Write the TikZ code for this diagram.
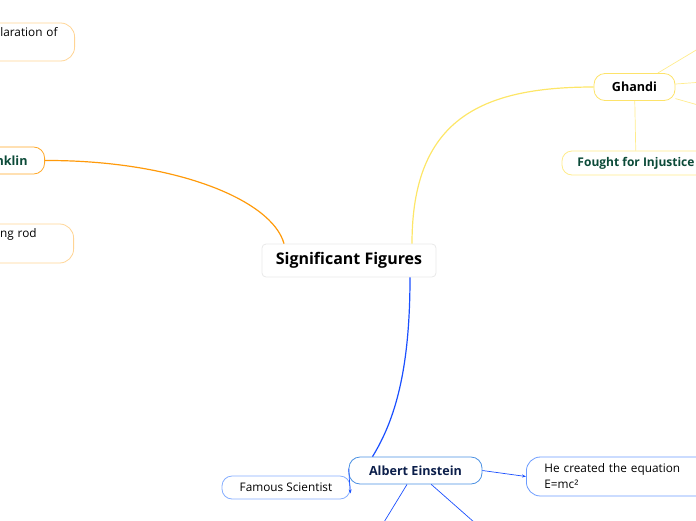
\documentclass[tikz,border=0pt]{standalone}
\usepackage{fontspec}
\setmainfont{Open Sans}
\usetikzlibrary{arrows.meta}
\definecolor{orangeline}{HTML}{FF9A0A}
\definecolor{orangebox}{HTML}{FFA726}
\definecolor{orangelight}{HTML}{FFD494}
\definecolor{darkgreen}{HTML}{0B4A38}
\definecolor{yellowline}{HTML}{FDE668}
\definecolor{yellowbox}{HTML}{FDE36A}
\definecolor{yellowlight}{HTML}{FFEC8C}
\definecolor{blueline}{HTML}{1A4FFF}
\definecolor{bluebox}{HTML}{4A90E2}
\definecolor{bluelight}{HTML}{86AEFF}
\definecolor{bluemid}{HTML}{6B9BFF}
\definecolor{navy}{HTML}{0B1E4A}
\definecolor{centerbox}{HTML}{E8E8E8}
\tikzset{
  pill/.style={draw, rounded corners=11pt, line width=0.8pt, inner ysep=0pt},
  lbl/.style={font=\fontsize{11.8}{16}\selectfont},
  blbl/.style={font=\bfseries\fontsize{12.6}{16}\selectfont},
  sblbl/.style={font=\bfseries\fontsize{12}{16}\selectfont},
  conn/.style={line width=1.2pt},
  thin/.style={line width=0.7pt},
  tip/.style={-{Stealth[length=4pt,width=3pt]}},
}
\begin{document}
\begin{tikzpicture}[x=1pt,y=-1pt]
\useasboundingbox (0,0) rectangle (696,520);
\clip (0,0) rectangle (696,520);

% central
\node[draw=centerbox, rounded corners=4pt, line width=0.8pt, minimum width=174pt, minimum height=33pt,
      font=\bfseries\fontsize{16}{19}\selectfont] (center) at (349,260.5) {Significant Figures};

% Franklin branch
\node[pill, draw=orangebox, blbl, text=darkgreen, anchor=east, minimum height=27pt,
      text width=80pt, align=right, inner xsep=17pt] (franklin) at (45,160.5) {nklin};
\node[pill, draw=orangelight, lbl, anchor=east, minimum height=38pt,
      text width=90pt, align=right, inner xsep=17pt, rounded corners=14pt] (decl) at (75,42) {laration of\\\strut};
\node[pill, draw=orangelight, lbl, anchor=east, minimum height=39pt,
      text width=90pt, align=right, inner xsep=37pt, rounded corners=14pt] (rod) at (74,243.5) {ng rod\\\strut};

\draw[conn, orangeline] (franklin.east) .. controls (175,160) and (272,200) .. ([xshift=-65pt]center.north);

% Ghandi branch
\node[pill, draw=yellowbox, blbl, text=black, minimum width=81pt, minimum height=27pt] (ghandi) at (634.5,87) {Ghandi};
\node[pill, draw=yellowlight, sblbl, text=darkgreen, minimum width=148pt, minimum height=24pt, rounded corners=10pt] (fought) at (636,163) {Fought for Injustice};
\coordinate (g1) at (758,13);
\coordinate (g2) at (758,78);
\coordinate (g3) at (758,122);
\draw[conn, yellowline] ([xshift=63pt]center.north) .. controls (412,120) and (480,87) .. (ghandi.west);
\draw[thin, yellowlight] (ghandi) -- (g1);
\draw[thin, yellowlight] (ghandi) -- (g2);
\draw[thin, yellowlight] (ghandi) -- (g3);
\draw[thin, yellowlight] (ghandi) -- (fought);

% Einstein branch
\node[pill, draw=bluebox, blbl, text=navy, minimum width=133pt, minimum height=27pt] (einstein) at (415.5,470.5) {Albert Einstein};
\node[pill, draw=bluelight, lbl, minimum width=128pt, minimum height=23pt, rounded corners=10pt] (famous) at (286,487.5) {Famous Scientist};
\node[pill, draw=bluemid, lbl, anchor=west, minimum height=39pt, text width=160pt, align=left,
      inner xsep=18pt, rounded corners=14pt] (emc) at (526,476.5) {He created the equation\\E=mc²};
\coordinate (e1) at (370,545);
\coordinate (e2) at (500,545);
\draw[conn, blueline] ([xshift=61pt]center.south) .. controls (410,370) and (395,420) .. ([xshift=-43pt]einstein.north);
\draw[thin, blueline, tip] (einstein.east) -- (emc.west);
\draw[thin, blueline, tip] ([yshift=2pt]einstein.west) -- ([yshift=-6pt]famous.east);
\draw[thin, blueline] (einstein) -- (e1);
\draw[thin, blueline] (einstein) -- (e2);
\end{tikzpicture}
\end{document}
